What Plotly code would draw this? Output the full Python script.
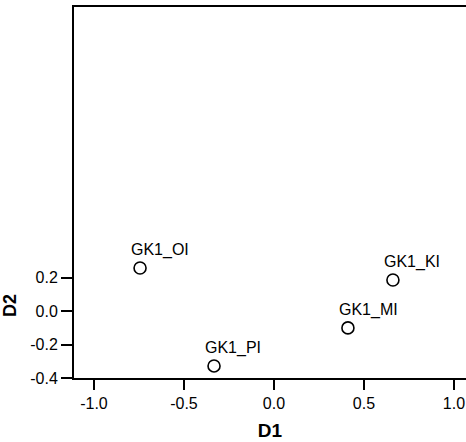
import plotly.graph_objects as go

labels = ["GK1_OI", "GK1_PI", "GK1_MI", "GK1_KI"]
d1 = [-0.744, -0.333, 0.411, 0.661]
d2 = [0.257, -0.328, -0.101, 0.185]

x_ticks = [-1.0, -0.5, 0.0, 0.5, 1.0]
y_ticks = [-0.4, -0.2, 0.0, 0.2]

fig = go.Figure()
fig.add_trace(go.Scatter(
    x=d1, y=d2, mode="markers",
    marker=dict(symbol="circle-open", size=12, color="black", line=dict(width=1.6, color="black")),
    showlegend=False, hoverinfo="skip"))

for lab, xv, yv in zip(labels, d1, d2):
    fig.add_annotation(x=xv, y=yv, text=lab, showarrow=False,
                       xanchor="left", yanchor="bottom", xshift=-11, yshift=7,
                       font=dict(family="Arial, Liberation Sans", size=16, color="black"))

fig.add_annotation(xref="paper", yref="y", x=-0.163, y=0.03, text="<b>D2</b>",
                   textangle=-90, showarrow=False, xanchor="center", yanchor="middle",
                   font=dict(family="Arial, Liberation Sans", size=18, color="black"))

fig.update_layout(
    width=466, height=442,
    margin=dict(l=74, r=0, t=7, b=64),
    paper_bgcolor="white", plot_bgcolor="white",
    font=dict(family="Arial, Liberation Sans", size=16, color="black"),
    xaxis=dict(range=[-1.111, 1.067], tickvals=x_ticks, ticktext=[f"{v:.1f}" for v in x_ticks],
               showgrid=False, zeroline=False, showline=True, linecolor="black", linewidth=2,
               mirror=True, ticks="outside", ticklen=10, tickwidth=2, tickcolor="black",
               title=dict(text="<b>D1</b>", font=dict(size=19), standoff=12)),
    yaxis=dict(range=[-0.4, 1.815], tickvals=y_ticks, ticktext=[f"{v:.1f}" for v in y_ticks],
               showgrid=False, zeroline=False, showline=True, linecolor="black", linewidth=2,
               ticks="outside", ticklen=11, tickwidth=2, tickcolor="black"),
)

fig.write_html("out.html")
